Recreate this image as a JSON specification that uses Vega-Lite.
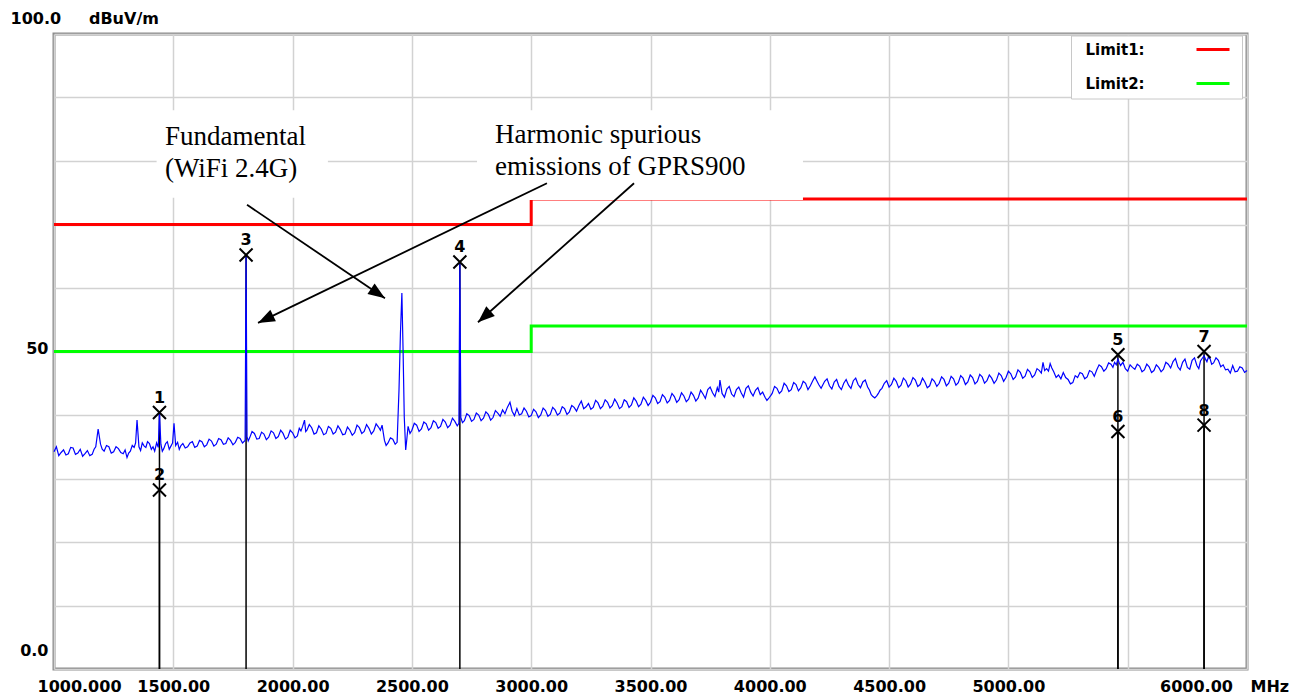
{
"$schema":"https://vega.github.io/schema/vega-lite/v6.json",
"width":1193,"height":635,"autosize":"none",
"padding":{"left":54,"top":34,"right":52,"bottom":29},
"background":"white",
"datasets":{
"trace":[{"f":1000,"v":34.2},{"f":1010,"v":35.0},{"f":1020,"v":33.6},{"f":1030,"v":34.1},{"f":1040,"v":34.5},{"f":1050,"v":33.7},{"f":1060,"v":33.9},{"f":1070,"v":34.9},{"f":1080,"v":34.8},{"f":1090,"v":33.8},{"f":1100,"v":34.0},{"f":1110,"v":34.6},{"f":1120,"v":33.5},{"f":1130,"v":33.9},{"f":1140,"v":34.4},{"f":1150,"v":33.6},{"f":1160,"v":33.8},{"f":1168,"v":34.6},{"f":1175,"v":35.0},{"f":1185,"v":37.8},{"f":1195,"v":35.4},{"f":1202,"v":34.6},{"f":1210,"v":34.3},{"f":1220,"v":35.2},{"f":1230,"v":35.0},{"f":1240,"v":34.0},{"f":1250,"v":34.2},{"f":1260,"v":35.0},{"f":1270,"v":34.7},{"f":1280,"v":34.1},{"f":1290,"v":33.9},{"f":1298,"v":34.5},{"f":1306,"v":33.3},{"f":1313,"v":34.0},{"f":1320,"v":34.3},{"f":1328,"v":35.2},{"f":1336,"v":34.9},{"f":1342,"v":35.6},{"f":1348,"v":39.2},{"f":1356,"v":35.0},{"f":1363,"v":34.4},{"f":1370,"v":35.6},{"f":1378,"v":35.1},{"f":1385,"v":34.9},{"f":1392,"v":35.8},{"f":1400,"v":35.5},{"f":1408,"v":34.6},{"f":1415,"v":35.0},{"f":1422,"v":34.3},{"f":1430,"v":35.6},{"f":1437,"v":34.9},{"f":1442,"v":40.3},{"f":1448,"v":35.4},{"f":1454,"v":34.3},{"f":1460,"v":34.7},{"f":1468,"v":35.5},{"f":1475,"v":35.8},{"f":1483,"v":34.6},{"f":1490,"v":35.1},{"f":1497,"v":35.6},{"f":1503,"v":38.7},{"f":1510,"v":35.2},{"f":1518,"v":35.7},{"f":1525,"v":34.6},{"f":1532,"v":35.2},{"f":1540,"v":35.5},{"f":1550,"v":34.8},{"f":1560,"v":35.0},{"f":1570,"v":35.6},{"f":1580,"v":35.8},{"f":1590,"v":34.9},{"f":1600,"v":35.1},{"f":1610,"v":36.0},{"f":1620,"v":35.8},{"f":1630,"v":35.0},{"f":1640,"v":35.3},{"f":1650,"v":36.2},{"f":1660,"v":35.9},{"f":1670,"v":35.1},{"f":1680,"v":35.4},{"f":1690,"v":36.3},{"f":1700,"v":36.1},{"f":1710,"v":35.4},{"f":1720,"v":35.5},{"f":1730,"v":36.4},{"f":1740,"v":36.0},{"f":1750,"v":35.3},{"f":1760,"v":35.7},{"f":1770,"v":36.5},{"f":1780,"v":36.3},{"f":1790,"v":35.6},{"f":1801,"v":36.0},{"f":1803,"v":50.7},{"f":1805,"v":65.2},{"f":1807,"v":50.7},{"f":1809,"v":36.6},{"f":1814,"v":35.9},{"f":1820,"v":36.4},{"f":1830,"v":37.4},{"f":1840,"v":37.1},{"f":1850,"v":36.2},{"f":1860,"v":36.3},{"f":1870,"v":37.3},{"f":1880,"v":37.0},{"f":1890,"v":36.1},{"f":1900,"v":36.5},{"f":1910,"v":37.5},{"f":1920,"v":37.2},{"f":1930,"v":36.3},{"f":1940,"v":36.6},{"f":1950,"v":37.6},{"f":1960,"v":37.1},{"f":1970,"v":36.2},{"f":1980,"v":36.5},{"f":1990,"v":37.6},{"f":2000,"v":37.2},{"f":2010,"v":36.4},{"f":2020,"v":36.7},{"f":2028,"v":37.9},{"f":2035,"v":37.5},{"f":2042,"v":38.2},{"f":2050,"v":39.2},{"f":2055,"v":37.4},{"f":2060,"v":37.6},{"f":2070,"v":38.5},{"f":2080,"v":38.0},{"f":2090,"v":37.0},{"f":2100,"v":37.2},{"f":2110,"v":38.3},{"f":2120,"v":37.8},{"f":2130,"v":36.9},{"f":2140,"v":37.1},{"f":2150,"v":38.2},{"f":2160,"v":37.9},{"f":2170,"v":37.0},{"f":2180,"v":37.3},{"f":2190,"v":38.3},{"f":2200,"v":37.7},{"f":2210,"v":36.9},{"f":2220,"v":37.0},{"f":2230,"v":38.1},{"f":2240,"v":37.6},{"f":2250,"v":36.8},{"f":2260,"v":37.2},{"f":2270,"v":38.4},{"f":2280,"v":38.0},{"f":2290,"v":37.1},{"f":2300,"v":37.4},{"f":2310,"v":38.5},{"f":2320,"v":37.9},{"f":2330,"v":37.0},{"f":2340,"v":37.5},{"f":2350,"v":38.6},{"f":2360,"v":38.1},{"f":2368,"v":37.6},{"f":2375,"v":38.4},{"f":2385,"v":36.0},{"f":2392,"v":35.2},{"f":2400,"v":35.6},{"f":2410,"v":36.4},{"f":2420,"v":36.2},{"f":2430,"v":35.4},{"f":2438,"v":35.7},{"f":2446,"v":44.0},{"f":2452,"v":52.9},{"f":2458,"v":59.2},{"f":2463,"v":50.2},{"f":2468,"v":39.7},{"f":2474,"v":34.5},{"f":2479,"v":36.3},{"f":2484,"v":38.2},{"f":2492,"v":37.1},{"f":2500,"v":37.6},{"f":2510,"v":38.7},{"f":2520,"v":38.4},{"f":2530,"v":37.4},{"f":2540,"v":37.8},{"f":2550,"v":38.9},{"f":2560,"v":38.6},{"f":2570,"v":37.6},{"f":2580,"v":38.0},{"f":2590,"v":39.1},{"f":2600,"v":38.8},{"f":2610,"v":37.9},{"f":2620,"v":38.2},{"f":2630,"v":39.3},{"f":2640,"v":38.9},{"f":2650,"v":38.0},{"f":2660,"v":38.4},{"f":2670,"v":39.5},{"f":2680,"v":39.0},{"f":2690,"v":38.3},{"f":2697,"v":38.7},{"f":2699,"v":51.8},{"f":2701,"v":63.9},{"f":2703,"v":51.8},{"f":2705,"v":39.6},{"f":2712,"v":38.8},{"f":2720,"v":39.1},{"f":2730,"v":40.2},{"f":2740,"v":39.9},{"f":2750,"v":39.0},{"f":2760,"v":39.3},{"f":2770,"v":40.3},{"f":2780,"v":40.0},{"f":2790,"v":39.1},{"f":2800,"v":39.5},{"f":2810,"v":40.5},{"f":2820,"v":40.1},{"f":2830,"v":39.2},{"f":2840,"v":39.6},{"f":2850,"v":40.7},{"f":2860,"v":40.3},{"f":2870,"v":39.8},{"f":2880,"v":40.8},{"f":2890,"v":40.2},{"f":2900,"v":41.2},{"f":2911,"v":42.0},{"f":2920,"v":40.6},{"f":2930,"v":39.9},{"f":2940,"v":41.0},{"f":2950,"v":40.0},{"f":2960,"v":40.2},{"f":2970,"v":41.1},{"f":2980,"v":40.6},{"f":2990,"v":39.7},{"f":3000,"v":39.9},{"f":3010,"v":40.9},{"f":3020,"v":40.5},{"f":3030,"v":39.6},{"f":3040,"v":40.0},{"f":3050,"v":41.1},{"f":3060,"v":40.7},{"f":3070,"v":39.8},{"f":3080,"v":40.1},{"f":3090,"v":41.2},{"f":3100,"v":40.8},{"f":3110,"v":40.0},{"f":3120,"v":40.3},{"f":3130,"v":41.3},{"f":3140,"v":41.0},{"f":3150,"v":40.1},{"f":3160,"v":40.5},{"f":3170,"v":41.5},{"f":3180,"v":41.2},{"f":3190,"v":40.6},{"f":3200,"v":41.5},{"f":3210,"v":42.2},{"f":3220,"v":41.0},{"f":3230,"v":41.3},{"f":3240,"v":41.8},{"f":3250,"v":40.9},{"f":3260,"v":41.2},{"f":3270,"v":42.3},{"f":3280,"v":41.9},{"f":3290,"v":41.0},{"f":3300,"v":41.4},{"f":3310,"v":42.4},{"f":3320,"v":42.0},{"f":3330,"v":41.1},{"f":3340,"v":41.5},{"f":3350,"v":42.5},{"f":3360,"v":41.9},{"f":3370,"v":41.0},{"f":3380,"v":41.3},{"f":3390,"v":42.4},{"f":3400,"v":42.1},{"f":3410,"v":41.2},{"f":3420,"v":41.6},{"f":3430,"v":42.7},{"f":3440,"v":42.2},{"f":3450,"v":41.3},{"f":3460,"v":41.7},{"f":3470,"v":42.8},{"f":3480,"v":42.3},{"f":3490,"v":41.5},{"f":3500,"v":42.0},{"f":3510,"v":43.1},{"f":3520,"v":42.7},{"f":3530,"v":41.8},{"f":3540,"v":42.1},{"f":3550,"v":43.2},{"f":3560,"v":42.8},{"f":3570,"v":41.9},{"f":3580,"v":42.3},{"f":3590,"v":43.4},{"f":3600,"v":42.9},{"f":3610,"v":42.0},{"f":3620,"v":42.4},{"f":3630,"v":43.5},{"f":3640,"v":43.0},{"f":3650,"v":42.1},{"f":3660,"v":42.5},{"f":3670,"v":43.6},{"f":3680,"v":43.1},{"f":3690,"v":42.2},{"f":3700,"v":42.7},{"f":3710,"v":43.9},{"f":3720,"v":43.3},{"f":3730,"v":42.6},{"f":3740,"v":44.0},{"f":3750,"v":44.4},{"f":3760,"v":43.5},{"f":3770,"v":42.9},{"f":3780,"v":44.3},{"f":3786,"v":43.6},{"f":3791,"v":45.5},{"f":3800,"v":43.4},{"f":3810,"v":42.8},{"f":3820,"v":44.1},{"f":3830,"v":44.5},{"f":3840,"v":43.3},{"f":3850,"v":42.9},{"f":3860,"v":44.0},{"f":3870,"v":44.4},{"f":3880,"v":43.5},{"f":3890,"v":42.8},{"f":3900,"v":44.2},{"f":3910,"v":44.6},{"f":3920,"v":43.6},{"f":3930,"v":43.0},{"f":3940,"v":43.9},{"f":3950,"v":44.3},{"f":3960,"v":43.2},{"f":3970,"v":43.6},{"f":3980,"v":42.8},{"f":3988,"v":42.3},{"f":3995,"v":42.6},{"f":4003,"v":43.0},{"f":4010,"v":43.4},{"f":4020,"v":44.5},{"f":4030,"v":44.2},{"f":4040,"v":43.4},{"f":4050,"v":43.8},{"f":4060,"v":45.0},{"f":4070,"v":44.6},{"f":4080,"v":43.7},{"f":4090,"v":44.0},{"f":4100,"v":45.1},{"f":4110,"v":44.8},{"f":4120,"v":43.8},{"f":4130,"v":44.3},{"f":4140,"v":45.3},{"f":4150,"v":45.0},{"f":4160,"v":44.0},{"f":4170,"v":44.6},{"f":4180,"v":45.4},{"f":4189,"v":46.0},{"f":4197,"v":45.4},{"f":4205,"v":44.8},{"f":4215,"v":44.2},{"f":4230,"v":45.3},{"f":4240,"v":45.7},{"f":4250,"v":44.6},{"f":4260,"v":44.1},{"f":4270,"v":45.2},{"f":4280,"v":45.6},{"f":4290,"v":44.5},{"f":4300,"v":44.0},{"f":4310,"v":45.0},{"f":4320,"v":45.6},{"f":4330,"v":44.7},{"f":4340,"v":44.2},{"f":4350,"v":45.4},{"f":4360,"v":45.8},{"f":4370,"v":44.8},{"f":4380,"v":44.3},{"f":4390,"v":45.2},{"f":4400,"v":45.5},{"f":4410,"v":44.4},{"f":4418,"v":43.9},{"f":4425,"v":43.2},{"f":4432,"v":42.9},{"f":4440,"v":42.7},{"f":4448,"v":43.0},{"f":4455,"v":43.4},{"f":4462,"v":43.9},{"f":4470,"v":44.2},{"f":4480,"v":45.0},{"f":4490,"v":45.4},{"f":4500,"v":44.4},{"f":4510,"v":44.8},{"f":4520,"v":45.8},{"f":4530,"v":45.3},{"f":4540,"v":44.3},{"f":4550,"v":44.7},{"f":4560,"v":45.8},{"f":4570,"v":45.4},{"f":4580,"v":44.4},{"f":4590,"v":44.9},{"f":4600,"v":45.9},{"f":4610,"v":45.5},{"f":4620,"v":44.5},{"f":4630,"v":44.8},{"f":4640,"v":45.8},{"f":4650,"v":45.2},{"f":4660,"v":44.3},{"f":4670,"v":44.6},{"f":4680,"v":45.7},{"f":4690,"v":45.3},{"f":4700,"v":44.5},{"f":4710,"v":45.0},{"f":4720,"v":46.0},{"f":4730,"v":45.6},{"f":4740,"v":44.6},{"f":4750,"v":45.0},{"f":4760,"v":46.1},{"f":4770,"v":45.7},{"f":4780,"v":44.7},{"f":4790,"v":45.1},{"f":4800,"v":46.2},{"f":4810,"v":45.8},{"f":4820,"v":44.8},{"f":4830,"v":45.2},{"f":4840,"v":46.3},{"f":4850,"v":45.9},{"f":4860,"v":44.9},{"f":4870,"v":45.3},{"f":4880,"v":46.4},{"f":4890,"v":46.0},{"f":4900,"v":45.0},{"f":4910,"v":45.4},{"f":4920,"v":46.3},{"f":4930,"v":45.8},{"f":4940,"v":45.0},{"f":4950,"v":45.5},{"f":4960,"v":46.6},{"f":4970,"v":46.2},{"f":4980,"v":45.3},{"f":4990,"v":45.9},{"f":5000,"v":46.9},{"f":5010,"v":46.5},{"f":5020,"v":45.6},{"f":5030,"v":46.0},{"f":5040,"v":47.1},{"f":5050,"v":46.7},{"f":5060,"v":45.8},{"f":5070,"v":46.1},{"f":5080,"v":47.2},{"f":5090,"v":46.8},{"f":5100,"v":45.9},{"f":5110,"v":46.3},{"f":5120,"v":47.3},{"f":5130,"v":47.0},{"f":5138,"v":46.6},{"f":5145,"v":48.3},{"f":5152,"v":47.0},{"f":5160,"v":47.3},{"f":5168,"v":46.9},{"f":5175,"v":48.1},{"f":5182,"v":47.4},{"f":5190,"v":46.8},{"f":5200,"v":45.9},{"f":5210,"v":46.3},{"f":5220,"v":45.7},{"f":5230,"v":46.7},{"f":5240,"v":45.9},{"f":5250,"v":45.6},{"f":5260,"v":44.9},{"f":5270,"v":45.1},{"f":5280,"v":46.2},{"f":5290,"v":45.9},{"f":5300,"v":46.7},{"f":5310,"v":46.5},{"f":5320,"v":45.7},{"f":5330,"v":46.0},{"f":5340,"v":47.0},{"f":5350,"v":46.8},{"f":5360,"v":46.1},{"f":5370,"v":47.1},{"f":5380,"v":47.9},{"f":5390,"v":47.6},{"f":5400,"v":46.9},{"f":5410,"v":47.3},{"f":5420,"v":48.2},{"f":5430,"v":48.0},{"f":5438,"v":47.5},{"f":5445,"v":48.3},{"f":5452,"v":47.9},{"f":5459,"v":48.8},{"f":5465,"v":48.2},{"f":5470,"v":47.8},{"f":5480,"v":48.3},{"f":5490,"v":47.3},{"f":5500,"v":46.9},{"f":5510,"v":47.9},{"f":5520,"v":47.5},{"f":5530,"v":47.2},{"f":5540,"v":48.0},{"f":5550,"v":47.7},{"f":5560,"v":46.8},{"f":5570,"v":47.1},{"f":5580,"v":48.0},{"f":5590,"v":47.6},{"f":5600,"v":46.7},{"f":5610,"v":47.0},{"f":5620,"v":47.9},{"f":5630,"v":47.5},{"f":5640,"v":46.8},{"f":5650,"v":47.2},{"f":5660,"v":48.3},{"f":5670,"v":48.0},{"f":5680,"v":47.4},{"f":5690,"v":48.4},{"f":5700,"v":48.9},{"f":5710,"v":47.6},{"f":5720,"v":47.1},{"f":5730,"v":48.3},{"f":5740,"v":48.8},{"f":5750,"v":47.5},{"f":5760,"v":47.2},{"f":5770,"v":48.6},{"f":5780,"v":49.0},{"f":5790,"v":47.8},{"f":5798,"v":47.3},{"f":5805,"v":48.5},{"f":5812,"v":48.9},{"f":5820,"v":49.3},{"f":5826,"v":48.8},{"f":5832,"v":48.4},{"f":5838,"v":49.1},{"f":5845,"v":48.9},{"f":5852,"v":48.0},{"f":5860,"v":48.2},{"f":5870,"v":49.0},{"f":5880,"v":48.6},{"f":5890,"v":47.6},{"f":5900,"v":47.9},{"f":5910,"v":47.1},{"f":5920,"v":47.2},{"f":5930,"v":46.6},{"f":5940,"v":47.8},{"f":5950,"v":46.8},{"f":5960,"v":46.9},{"f":5970,"v":47.6},{"f":5980,"v":47.4},{"f":5990,"v":46.7},{"f":6000,"v":47.0}],
"limits":[{"limit":"Limit1:","f":1000,"v":70},{"limit":"Limit1:","f":3000,"v":74},{"limit":"Limit1:","f":6000,"v":74},{"limit":"Limit2:","f":1000,"v":50},{"limit":"Limit2:","f":3000,"v":54},{"limit":"Limit2:","f":6000,"v":54}],
"markers":[{"id":"1","f":1442,"v":40.4},{"id":"2","f":1442,"v":28.2},{"id":"3","f":1805,"v":65.2},{"id":"4","f":2701,"v":64.1},{"id":"5","f":5459,"v":49.5},{"id":"6","f":5459,"v":37.4},{"id":"7","f":5820,"v":50.0},{"id":"8","f":5820,"v":38.4}],
"boxes":[{"f":1430,"f2":2148,"v":74.2,"v2":88},{"f":2773,"f2":4139,"v":73.86,"v2":88}],
"notes":[{"f":1465,"v":82.5,"text":"Fundamental\n(WiFi 2.4G)"},{"f":2848,"v":82.8,"text":"Harmonic spurious\nemissions of GPRS900"}],
"arrows":[{"f":1809,"v":73.1,"f2":2387,"v2":58.4},{"f":3066,"v":76.5,"f2":1855,"v2":54.5},{"f":3431,"v":76.5,"f2":2777,"v2":54.6}]
},
"encoding":{
"x":{"field":"f","type":"quantitative","scale":{"domain":[1000,6000],"nice":false,"zero":false},
"axis":{"values":[1000,1500,2000,2500,3000,3500,4000,4500,5000,5500,6000],
"labelExpr":"datum.value==1000?'1000.000':datum.value==5500?'':format(datum.value,'.2f')",
"labelOffset":{"condition":[{"test":"datum.value==1000","value":25},{"test":"datum.value==6000","value":-51}],"value":0},
"labelBaseline":"alphabetic","labelPadding":22,"labelFlush":false,"labelOverlap":false,
"title":"MHz","titleX":1196,"titleY":22,"titleAlign":"left","titleBaseline":"alphabetic","titleAngle":0}},
"y":{"field":"v","type":"quantitative","scale":{"domain":[0,100],"nice":false},
"axis":{"values":[0,10,20,30,40,50,60,70,80,90,100],
"labelExpr":"datum.value==50?'50':datum.value==0?'0.0':''",
"labelBaseline":"alphabetic","labelOffset":{"condition":{"test":"datum.value==0","value":-14},"value":2},
"labelPadding":6,"labelFlush":false,"labelOverlap":false,
"title":"100.0\u00a0\u00a0\u00a0\u00a0\u00a0dBuV/m","titleAngle":0,"titleAlign":"left","titleBaseline":"alphabetic","titleX":-44,"titleY":-11}}
},
"layer":[
{"data":{"name":"markers"},"mark":{"type":"rule","color":"#000000","strokeWidth":1.5},"encoding":{"y2":{"datum":0}}},
{"data":{"name":"limits"},"mark":{"type":"line","interpolate":"step-after","strokeWidth":3},
"encoding":{"color":{"field":"limit","type":"nominal","scale":{"domain":["Limit1:","Limit2:"],"range":["#ff0000","#00ff00"]},
"legend":{"orient":"none","legendX":1017,"legendY":1.5,"title":null,"padding":6.5,"fillColor":"#ffffff","strokeColor":"#c8c8c8",
"symbolType":"M-3.3,0L3.3,0","symbolSize":100,"symbolStrokeWidth":3,"symbolOffset":128,"labelOffset":-135,
"labelFont":"DejaVu Sans","labelFontWeight":"bold","labelFontSize":15,"labelColor":"#000000","rowPadding":18,"labelLimit":200}}}},
{"data":{"name":"trace"},"mark":{"type":"line","color":"#0000ff","strokeWidth":1.2}},
{"data":{"name":"boxes"},"mark":{"type":"rect","color":"#ffffff"},"encoding":{"x2":{"field":"f2"},"y2":{"field":"v2"}}},
{"data":{"name":"notes"},"mark":{"type":"text","font":"Liberation Serif","fontSize":27,"align":"left","baseline":"alphabetic","lineBreak":"\n","lineHeight":31.5,"color":"#000000"},"encoding":{"text":{"field":"text"}}},
{"data":{"name":"arrows"},"mark":{"type":"rule","color":"#000000","strokeWidth":1.8},"encoding":{"x2":{"field":"f2"},"y2":{"field":"v2"}}},
{"data":{"name":"arrows"},"transform":[{"calculate":"atan2((datum.f2-datum.f)*0.2386,(datum.v2-datum.v)*6.35)*180/PI","as":"ang"},{"calculate":"datum.f2","as":"f"},{"calculate":"datum.v2","as":"v"}],
"mark":{"type":"point","shape":"M0,0L-0.8,2.1L0.8,2.1Z","filled":true,"color":"#000000","size":256,"opacity":1},
"encoding":{"angle":{"field":"ang","type":"quantitative","scale":null}}},
{"data":{"name":"markers"},"mark":{"type":"point","shape":"M-1,-1L1,1M1,-1L-1,1","filled":false,"color":"#000000","strokeWidth":2,"size":169,"opacity":1}},
{"data":{"name":"markers"},"mark":{"type":"text","dy":-9.5,"baseline":"alphabetic","font":"DejaVu Sans","fontWeight":"bold","fontSize":16,"color":"#000000"},"encoding":{"text":{"field":"id"}}}
],
"config":{
"view":{"stroke":"#8c8c8c","strokeWidth":3},
"axis":{"domain":false,"ticks":false,"tickSize":0,"grid":true,"gridColor":"#d2d2d2","gridWidth":1.5,
"labelFont":"DejaVu Sans","labelFontSize":16,"labelFontWeight":"bold","labelColor":"#000000",
"titleFont":"DejaVu Sans","titleFontSize":16,"titleFontWeight":"bold","titleColor":"#000000"}
}
}
